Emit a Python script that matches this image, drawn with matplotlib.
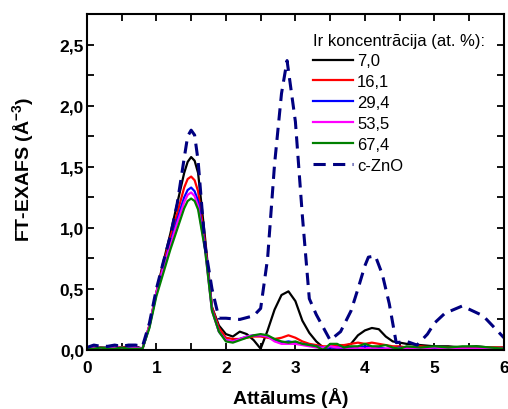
import numpy as np
import matplotlib
matplotlib.use("Agg")
import matplotlib.pyplot as plt

plt.rcParams['font.family'] = ['Liberation Sans', 'DejaVu Sans']
plt.rcParams['mathtext.fontset'] = 'custom'
plt.rcParams['mathtext.rm'] = 'Liberation Sans'
plt.rcParams['mathtext.it'] = 'Liberation Sans'

# distance grid for the measured samples (Å)
r = [0, 0.1, 0.2, 0.3, 0.4, 0.5, 0.6, 0.7, 0.8, 0.9, 1.0, 1.1, 1.2, 1.3, 1.4,
     1.45, 1.5, 1.55, 1.6, 1.7, 1.8, 1.9, 2.0, 2.1, 2.2, 2.3, 2.4, 2.5, 2.6,
     2.7, 2.8, 2.9, 3.0, 3.1, 3.2, 3.3, 3.4, 3.5, 3.6, 3.7, 3.8, 3.9, 4.0, 4.1,
     4.2, 4.3, 4.4, 4.5, 4.6, 4.8, 5.0, 5.2, 5.4, 5.6, 5.8, 6.0]

ir_7_0 = [0.01, 0.03, 0.02, 0.02, 0.03, 0.02, 0.03, 0.03, 0.01, 0.20, 0.47,
          0.72, 0.95, 1.20, 1.45, 1.54, 1.58, 1.55, 1.45, 0.92, 0.35, 0.20,
          0.13, 0.11, 0.15, 0.13, 0.08, 0.01, 0.16, 0.33, 0.45, 0.48, 0.40,
          0.24, 0.14, 0.07, 0.02, 0.02, 0.02, 0.03, 0.05, 0.12, 0.16, 0.18,
          0.17, 0.11, 0.07, 0.06, 0.05, 0.04, 0.03, 0.03, 0.02, 0.03, 0.02, 0.02]
ir_16_1 = [0.01, 0.02, 0.02, 0.01, 0.02, 0.02, 0.02, 0.02, 0.01, 0.20, 0.47,
           0.70, 0.92, 1.12, 1.33, 1.40, 1.42, 1.39, 1.30, 0.88, 0.35, 0.18,
           0.10, 0.09, 0.09, 0.10, 0.11, 0.11, 0.10, 0.09, 0.10, 0.12, 0.10,
           0.07, 0.05, 0.04, 0.03, 0.03, 0.04, 0.04, 0.05, 0.06, 0.05, 0.06,
           0.05, 0.04, 0.03, 0.03, 0.02, 0.03, 0.02, 0.02, 0.02, 0.02, 0.02, 0.02]
ir_29_4 = [0.01, 0.02, 0.01, 0.02, 0.02, 0.01, 0.02, 0.02, 0.01, 0.19, 0.46,
           0.68, 0.88, 1.07, 1.25, 1.31, 1.33, 1.30, 1.22, 0.85, 0.33, 0.15,
           0.08, 0.07, 0.09, 0.11, 0.12, 0.12, 0.11, 0.08, 0.06, 0.07, 0.06,
           0.05, 0.04, 0.03, 0.02, 0.02, 0.02, 0.01, 0.02, 0.02, 0.03, 0.02,
           0.02, 0.01, 0.01, 0.02, 0.01, 0.01, 0.01, 0.01, 0.01, 0.01, 0.01, 0.01]
ir_53_5 = [0.01, 0.02, 0.02, 0.01, 0.02, 0.02, 0.01, 0.02, 0.01, 0.20, 0.47,
           0.67, 0.86, 1.04, 1.21, 1.27, 1.29, 1.26, 1.18, 0.83, 0.32, 0.15,
           0.08, 0.07, 0.09, 0.11, 0.12, 0.12, 0.11, 0.07, 0.05, 0.05, 0.05,
           0.04, 0.03, 0.02, 0.02, 0.03, 0.02, 0.02, 0.01, 0.02, 0.01, 0.02,
           0.01, 0.01, 0.02, 0.01, 0.01, 0.01, 0.02, 0.01, 0.01, 0.01, 0.01, 0.01]
ir_67_4 = [0.01, 0.01, 0.02, 0.01, 0.01, 0.02, 0.01, 0.01, 0.01, 0.18, 0.44,
           0.63, 0.82, 0.99, 1.16, 1.22, 1.24, 1.22, 1.15, 0.82, 0.32, 0.15,
           0.07, 0.06, 0.08, 0.10, 0.12, 0.13, 0.12, 0.09, 0.07, 0.06, 0.07,
           0.05, 0.04, 0.03, 0.00, 0.05, 0.05, 0.02, 0.03, 0.03, 0.05, 0.03,
           0.03, 0.04, 0.02, 0.01, 0.03, 0.02, 0.03, 0.02, 0.03, 0.03, 0.02, 0.01]

# reference c-ZnO
r_zno = [0, 0.1, 0.2, 0.3, 0.4, 0.5, 0.6, 0.7, 0.8, 0.9, 1.0, 1.1, 1.2, 1.3,
         1.4, 1.45, 1.5, 1.55, 1.6, 1.7, 1.8, 1.9, 2.0, 2.2, 2.4, 2.5, 2.6,
         2.7, 2.8, 2.88, 3.0, 3.1, 3.2, 3.3, 3.5, 3.65, 3.8, 3.9, 4.0, 4.05,
         4.15, 4.25, 4.35, 4.45, 4.6, 4.75, 4.9, 5.0, 5.15, 5.4, 5.7, 5.9, 6.0]
c_zno = [0.02, 0.04, 0.03, 0.03, 0.04, 0.03, 0.04, 0.04, 0.03, 0.22, 0.50,
         0.72, 0.93, 1.20, 1.57, 1.75, 1.80, 1.76, 1.55, 0.85, 0.50, 0.26,
         0.26, 0.25, 0.28, 0.34, 0.75, 1.52, 2.10, 2.37, 1.87, 1.10, 0.42,
         0.29, 0.08, 0.15, 0.32, 0.50, 0.69, 0.76, 0.77, 0.62, 0.38, 0.06,
         0.07, 0.04, 0.13, 0.22, 0.30, 0.36, 0.28, 0.16, 0.10]

labels = ['7,0', '16,1', '29,4', '53,5', '67,4']
colors = ['black', 'red', 'blue', 'magenta', 'green']
series = [ir_7_0, ir_16_1, ir_29_4, ir_53_5, ir_67_4]

fig = plt.figure(figsize=(5.08, 4.10), dpi=100)
ax = fig.add_axes([0.171, 0.144, 0.821, 0.819])

for y, c, lab in zip(series, colors, labels):
    ax.plot(r, y, color=c, lw=1.6, label=lab)
ax.plot(r_zno, c_zno, color='#000080', lw=2.2, ls=(0, (4, 2.4)), label='c-ZnO')

ax.set_xlim(0, 6)
ax.set_ylim(0, 2.75)
ax.set_xticks(np.arange(0, 6.1, 1))
ax.set_xticks(np.arange(0, 6.1, 0.5), minor=True)
ax.set_yticks(np.arange(0, 2.6, 0.5))
ax.set_yticks(np.arange(0, 2.76, 0.25), minor=True)
ax.set_xticklabels([f'{v:.0f}' for v in np.arange(0, 6.1, 1)])
ax.set_yticklabels([f'{v:.1f}'.replace('.', ',') for v in np.arange(0, 2.6, 0.5)])

ax.tick_params(which='both', direction='in', top=True, right=True, width=1.3)
ax.tick_params(which='major', length=5, labelsize=12.5)
ax.tick_params(which='minor', length=5)
ax.tick_params(axis='x', which='major', pad=7)
ax.tick_params(axis='y', which='major', pad=2)
for lb in ax.get_xticklabels() + ax.get_yticklabels():
    lb.set_fontweight('bold')
for sp in ax.spines.values():
    sp.set_linewidth(1.5)

ax.set_xlabel(r'Attālums $\mathregular{(Å)}$', fontsize=14, fontweight='bold')
ax.set_ylabel(r'FT-EXAFS $\mathregular{(Å^{-3})}$', fontsize=14, fontweight='bold')
ax.xaxis.set_label_coords(0.487, -0.105)
ax.yaxis.set_label_coords(-0.123, 0.54)

leg = ax.legend(title='Ir koncentrācija (at. %):', loc='upper left',
                bbox_to_anchor=(0.542, 0.945), frameon=False, fontsize=12,
                title_fontsize=12, handlelength=2.4, handletextpad=0.25,
                labelspacing=0.35, borderpad=0, borderaxespad=0,
                alignment='left')

fig.savefig('out.png', dpi=100)
